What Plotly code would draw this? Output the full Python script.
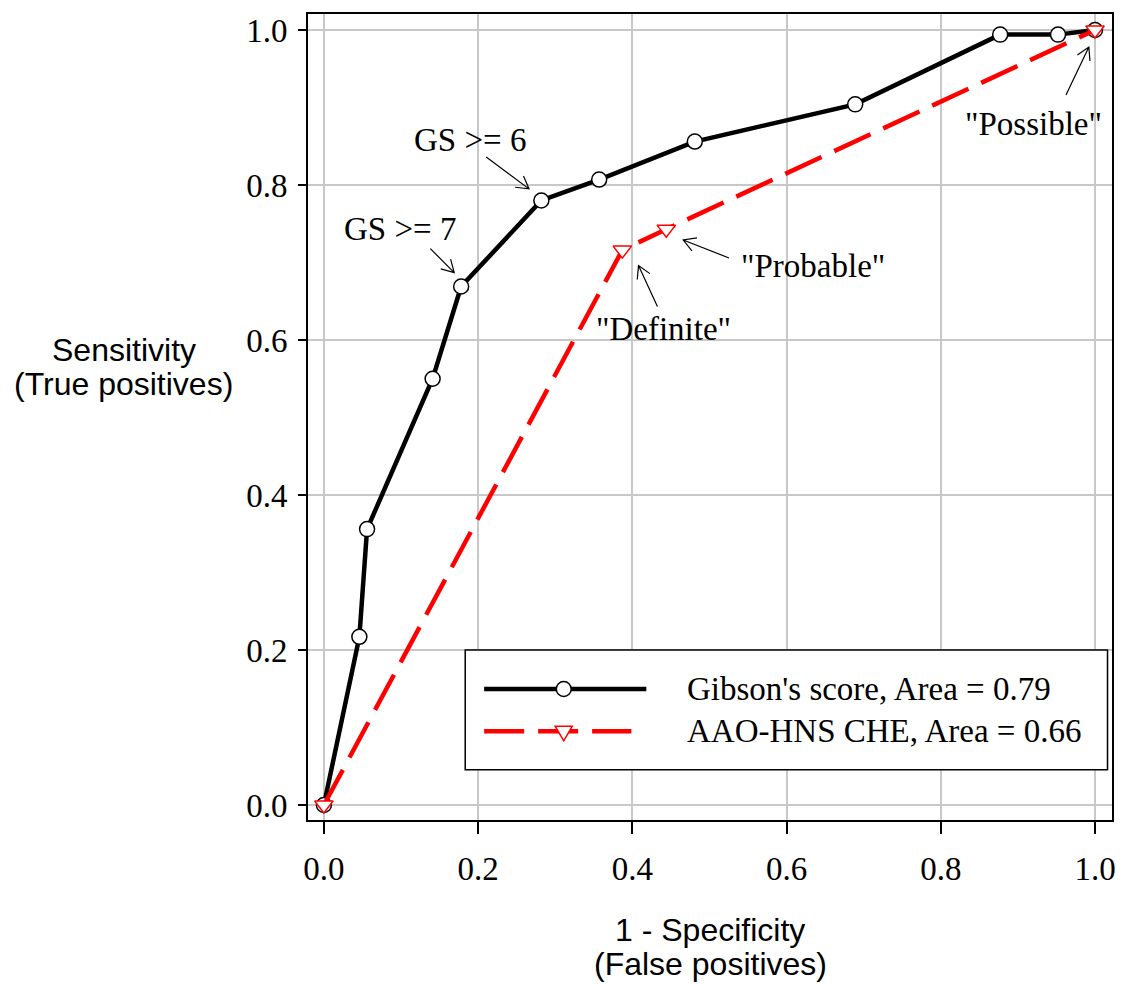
import math
import plotly.graph_objects as go

# ---- data ----
gibson_fpr = [0.0, 0.046, 0.056, 0.141, 0.178, 0.282, 0.357, 0.481, 0.689, 0.877, 0.952, 1.0]
gibson_tpr = [0.0, 0.217, 0.356, 0.550, 0.669, 0.780, 0.807, 0.856, 0.904, 0.994, 0.994, 1.0]
che_fpr = [0.0, 0.387, 0.444, 1.0]
che_tpr = [0.0, 0.716, 0.743, 1.0]

series_names = ["Gibson's score, Area = 0.79", "AAO-HNS CHE, Area = 0.66"]
tick_vals = [0.0, 0.2, 0.4, 0.6, 0.8, 1.0]
tick_text = ["0.0", "0.2", "0.4", "0.6", "0.8", "1.0"]

# labels: text and label position; arrow head position and tail offset (px)
label_text = ["GS >= 6", "GS >= 7", '"Definite"', '"Probable"', '"Possible"']
label_x = [0.190, 0.099, 0.440, 0.634, 0.920]
label_y = [0.858, 0.743, 0.614, 0.695, 0.879]
arrow_x = [0.266, 0.169, 0.408, 0.466, 0.992]
arrow_y = [0.795, 0.687, 0.696, 0.729, 0.978]
arrow_dx = [-43, -24, 19, 46, -23]
arrow_dy = [-32, -24, 41, 18, 48]

SERIF = "Liberation Serif"
SANS = "Liberation Sans"
FS = 33

W, H = 1128, 984
ML, MR, MT, MB = 308, 12, 12, 164
PW, PH = W - ML - MR, H - MT - MB
XR = [-0.0206, 1.022]
YR = [-0.0193, 1.0206]
SX = PW / (XR[1] - XR[0])
SY = PH / (YR[1] - YR[0])

fig = go.Figure()
fig.add_trace(go.Scatter(
    x=gibson_fpr, y=gibson_tpr, mode="lines+markers", name=series_names[0],
    line=dict(color="black", width=4.5),
    marker=dict(symbol="circle", size=15, color="white", line=dict(color="black", width=1.5)),
    showlegend=False))
fig.add_trace(go.Scatter(
    x=che_fpr, y=che_tpr, mode="lines+markers", name=series_names[1],
    line=dict(color="#ff0000", width=4.5, dash="40px,14px"),
    marker=dict(symbol="triangle-down", size=16, color="white", line=dict(color="#ff0000", width=1.5)),
    showlegend=False))

annotations = []
shapes = []
for t, lx, ly in zip(label_text, label_x, label_y):
    annotations.append(dict(x=lx, y=ly, xref="x", yref="y", text=t, showarrow=False,
                            font=dict(family=SERIF, size=FS, color="black"),
                            xanchor="center", yanchor="middle"))

# open-V arrows (R style): shaft + two barbs, built around each head point
BARB = 14.0
ANG = math.radians(30)
for hx, hy, dx, dy in zip(arrow_x, arrow_y, arrow_dx, arrow_dy):
    n = math.hypot(dx, dy)
    ux, uy = dx / n, dy / n

    def to_data(ox, oy):
        return hx + ox / SX, hy - oy / SY

    tx, ty = to_data(dx, dy)
    pts = []
    for s in (1, -1):
        c, si = math.cos(s * ANG), math.sin(s * ANG)
        bx = (ux * c - uy * si) * BARB
        by = (ux * si + uy * c) * BARB
        pts.append(to_data(bx, by))
    path = (f"M{tx},{ty} L{hx},{hy} M{pts[0][0]},{pts[0][1]} L{hx},{hy} "
            f"L{pts[1][0]},{pts[1][1]}")
    shapes.append(dict(type="path", xref="x", yref="y", path=path,
                       line=dict(color="black", width=1.2), layer="above"))


def px2paper_x(px):
    return (px - ML) / PW


def px2paper_y(py):
    return (H - MB - py) / PH


# axis titles (horizontal, two lines each)
for txt, py in [("Sensitivity", 349), ("(True positives)", 383)]:
    annotations.append(dict(x=px2paper_x(123), y=px2paper_y(py), xref="paper", yref="paper",
                            text=txt, showarrow=False, xanchor="center", yanchor="middle",
                            font=dict(family=SANS, size=32, color="black")))
for txt, py in [("1 - Specificity", 930), ("(False positives)", 964)]:
    annotations.append(dict(x=0.5, y=px2paper_y(py), xref="paper", yref="paper",
                            text=txt, showarrow=False, xanchor="center", yanchor="middle",
                            font=dict(family=SANS, size=32, color="black")))

# manual legend (box, line samples, symbols, texts)
shapes.append(dict(type="rect", xref="paper", yref="paper",
                   x0=px2paper_x(466), x1=px2paper_x(1111.5), y0=px2paper_y(769.5), y1=px2paper_y(649.5),
                   line=dict(color="black", width=1.5), fillcolor="white", layer="above"))
row_y = [px2paper_y(688.7), px2paper_y(731)]
shapes.append(dict(type="line", xref="paper", yref="paper",
                   x0=px2paper_x(485), x1=px2paper_x(648), y0=row_y[0], y1=row_y[0],
                   line=dict(color="black", width=4.5), layer="above"))
shapes.append(dict(type="line", xref="paper", yref="paper",
                   x0=px2paper_x(485), x1=px2paper_x(633), y0=row_y[1], y1=row_y[1],
                   line=dict(color="#ff0000", width=4.5, dash="40px,14px"), layer="above"))
cx = px2paper_x(565)
shapes.append(dict(type="circle", xref="paper", yref="paper",
                   x0=cx - 7.5 / PW, x1=cx + 7.5 / PW, y0=row_y[0] - 7.5 / PH, y1=row_y[0] + 7.5 / PH,
                   line=dict(color="black", width=1.5), fillcolor="white", layer="above"))
hw, up, dn = 8.6 / PW, 5.0 / PH, 9.6 / PH
tri = (f"M{cx - hw},{row_y[1] + up} L{cx + hw},{row_y[1] + up} "
       f"L{cx},{row_y[1] - dn} Z")
shapes.append(dict(type="path", xref="paper", yref="paper", path=tri,
                   line=dict(color="#ff0000", width=1.5), fillcolor="white", layer="above"))
for name, ry in zip(series_names, row_y):
    annotations.append(dict(x=px2paper_x(687), y=ry, xref="paper", yref="paper", text=name,
                            showarrow=False, xanchor="left", yanchor="middle",
                            font=dict(family=SERIF, size=FS, color="black")))

axis_common = dict(
    tickmode="array", tickvals=tick_vals, ticktext=tick_text,
    showgrid=True, gridcolor="#c8c8c8", gridwidth=1.5,
    zeroline=False, showline=True, linecolor="black", linewidth=2, mirror=True,
    ticks="outside", tickcolor="black", tickwidth=2,
    tickfont=dict(family=SERIF, size=FS, color="black"),
)

fig.update_layout(
    width=W, height=H,
    margin=dict(l=ML, r=MR, t=MT, b=MB),
    paper_bgcolor="white", plot_bgcolor="white",
    xaxis=dict(range=XR, ticklen=12, ticklabelstandoff=6, **axis_common),
    yaxis=dict(range=YR, ticklen=8, ticklabelstandoff=4, **axis_common),
    annotations=annotations, shapes=shapes,
    showlegend=False,
)

fig.write_html("out.html")
